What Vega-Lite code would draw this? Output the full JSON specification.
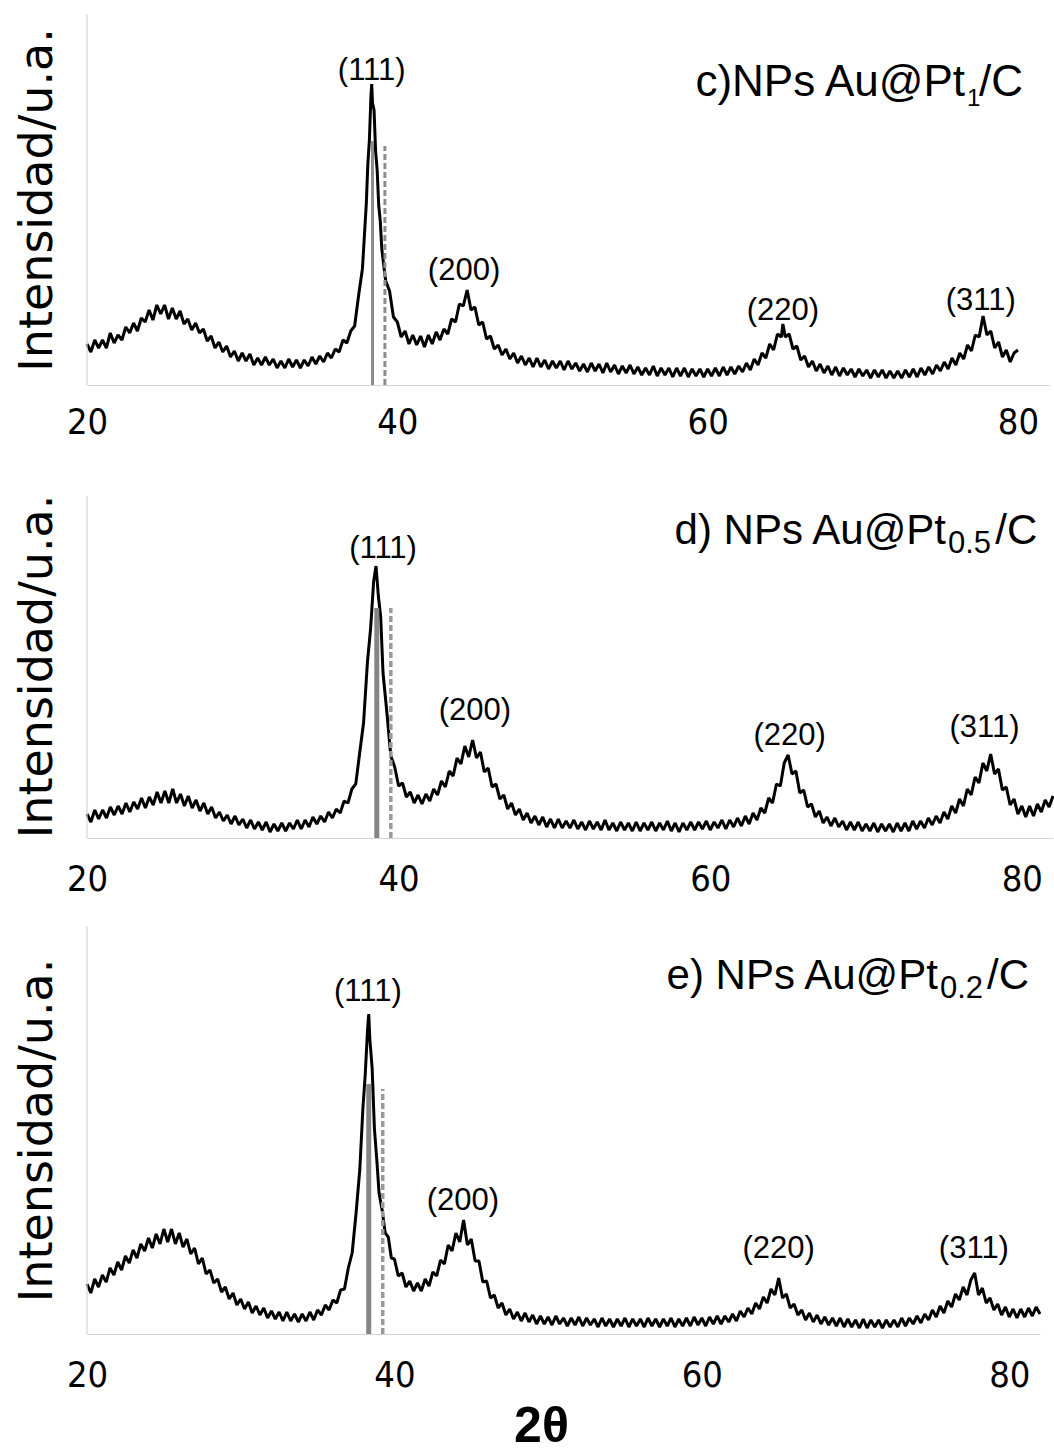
{
  "$schema": "https://vega.github.io/schema/vega-lite/v6.json",
  "background": "white",
  "padding": {"left": 14, "top": 13, "right": 0, "bottom": 0},
  "bounds": "flush",
  "spacing": 88,
  "config": {
    "view": {"stroke": null},
    "line": {"strokeJoin": "bevel"},
    "axisX": {"domain": true, "domainColor": "#d4d4d4", "domainWidth": 1.2, "ticks": false, "tickSize": 0, "grid": false, "labelFont": "Liberation Sans Narrow, DejaVu Sans Condensed, sans-serif", "labelFontSize": 36, "labelColor": "#000000", "labelFlush": false, "labelOverlap": false, "labelPadding": 24},
    "axisY": {"domain": false, "ticks": false, "labels": false, "grid": false, "titleFont": "DejaVu Sans", "titleFontSize": 46, "titleFontWeight": "normal", "titleColor": "#000000", "titlePadding": 26}
  },
  "datasets": {
    "c": [
      {"t":20,"i":41},{"t":20.25,"i":33},{"t":20.5,"i":45},{"t":20.75,"i":37},{"t":21,"i":45},{"t":21.25,"i":37},{"t":21.5,"i":52},{"t":21.75,"i":42},{"t":22,"i":50},{"t":22.25,"i":45},{"t":22.5,"i":58},{"t":22.75,"i":52},{"t":23,"i":62},{"t":23.25,"i":54},{"t":23.5,"i":67},{"t":23.75,"i":63},{"t":24,"i":75},{"t":24.25,"i":65},{"t":24.5,"i":80},{"t":24.75,"i":71},{"t":25,"i":80},{"t":25.25,"i":66},{"t":25.5,"i":77},{"t":25.75,"i":66},{"t":26,"i":74},{"t":26.25,"i":61},{"t":26.5,"i":66},{"t":26.75,"i":55},{"t":27,"i":62},{"t":27.25,"i":52},{"t":27.5,"i":56},{"t":27.75,"i":44},{"t":28,"i":49},{"t":28.25,"i":37},{"t":28.5,"i":43},{"t":28.75,"i":33},{"t":29,"i":39},{"t":29.25,"i":28},{"t":29.5,"i":34},{"t":29.75,"i":24},{"t":30,"i":32},{"t":30.25,"i":24},{"t":30.5,"i":31},{"t":30.75,"i":20},{"t":31,"i":27},{"t":31.25,"i":20},{"t":31.5,"i":28},{"t":31.75,"i":20},{"t":32,"i":26},{"t":32.25,"i":17},{"t":32.5,"i":24},{"t":32.75,"i":17},{"t":33,"i":26},{"t":33.25,"i":18},{"t":33.5,"i":25},{"t":33.75,"i":17},{"t":34,"i":25},{"t":34.25,"i":19},{"t":34.5,"i":28},{"t":34.75,"i":21},{"t":35,"i":29},{"t":35.25,"i":23},{"t":35.5,"i":32},{"t":35.75,"i":27},{"t":36,"i":36},{"t":36.25,"i":33},{"t":36.5,"i":45},{"t":36.75,"i":42},{"t":37,"i":54},{"t":37.25,"i":59},{"t":37.5,"i":89},{"t":37.75,"i":116},{"t":37.9,"i":155},{"t":38,"i":181},{"t":38.1,"i":221},{"t":38.2,"i":245},{"t":38.3,"i":289},{"t":38.35,"i":301},{"t":38.4,"i":282},{"t":38.5,"i":275},{"t":38.6,"i":234},{"t":38.7,"i":215},{"t":38.8,"i":180},{"t":38.9,"i":164},{"t":39,"i":136},{"t":39.1,"i":123},{"t":39.25,"i":104},{"t":39.5,"i":94},{"t":39.75,"i":68},{"t":40,"i":63},{"t":40.25,"i":48},{"t":40.5,"i":54},{"t":40.75,"i":41},{"t":41,"i":50},{"t":41.25,"i":40},{"t":41.5,"i":49},{"t":41.75,"i":38},{"t":42,"i":50},{"t":42.25,"i":41},{"t":42.5,"i":53},{"t":42.75,"i":45},{"t":43,"i":56},{"t":43.25,"i":51},{"t":43.5,"i":66},{"t":43.75,"i":63},{"t":44,"i":81},{"t":44.25,"i":79},{"t":44.5,"i":95},{"t":44.75,"i":75},{"t":45,"i":78},{"t":45.25,"i":60},{"t":45.5,"i":63},{"t":45.75,"i":46},{"t":46,"i":49},{"t":46.25,"i":36},{"t":46.5,"i":40},{"t":46.75,"i":30},{"t":47,"i":36},{"t":47.25,"i":26},{"t":47.5,"i":32},{"t":47.75,"i":22},{"t":48,"i":29},{"t":48.25,"i":20},{"t":48.5,"i":27},{"t":48.75,"i":18},{"t":49,"i":27},{"t":49.25,"i":18},{"t":49.5,"i":25},{"t":49.75,"i":16},{"t":50,"i":24},{"t":50.25,"i":17},{"t":50.5,"i":24},{"t":50.75,"i":15},{"t":51,"i":24},{"t":51.25,"i":16},{"t":51.5,"i":22},{"t":51.75,"i":14},{"t":52,"i":21},{"t":52.25,"i":13},{"t":52.5,"i":22},{"t":52.75,"i":14},{"t":53,"i":21},{"t":53.25,"i":12},{"t":53.5,"i":22},{"t":53.75,"i":13},{"t":54,"i":20},{"t":54.25,"i":11},{"t":54.5,"i":19},{"t":54.75,"i":12},{"t":55,"i":20},{"t":55.25,"i":11},{"t":55.5,"i":18},{"t":55.75,"i":10},{"t":56,"i":17},{"t":56.25,"i":10},{"t":56.5,"i":19},{"t":56.75,"i":9},{"t":57,"i":17},{"t":57.25,"i":10},{"t":57.5,"i":17},{"t":57.75,"i":8},{"t":58,"i":17},{"t":58.25,"i":9},{"t":58.5,"i":17},{"t":58.75,"i":8},{"t":59,"i":16},{"t":59.25,"i":9},{"t":59.5,"i":16},{"t":59.75,"i":8},{"t":60,"i":16},{"t":60.25,"i":9},{"t":60.5,"i":17},{"t":60.75,"i":9},{"t":61,"i":18},{"t":61.25,"i":10},{"t":61.5,"i":18},{"t":61.75,"i":11},{"t":62,"i":19},{"t":62.25,"i":13},{"t":62.5,"i":22},{"t":62.75,"i":15},{"t":63,"i":26},{"t":63.25,"i":20},{"t":63.5,"i":32},{"t":63.75,"i":27},{"t":64,"i":41},{"t":64.25,"i":35},{"t":64.5,"i":51},{"t":64.75,"i":48},{"t":64.85,"i":61},{"t":65,"i":48},{"t":65.25,"i":51},{"t":65.5,"i":36},{"t":65.75,"i":39},{"t":66,"i":25},{"t":66.25,"i":29},{"t":66.5,"i":18},{"t":66.75,"i":24},{"t":67,"i":14},{"t":67.25,"i":21},{"t":67.5,"i":12},{"t":67.75,"i":19},{"t":68,"i":10},{"t":68.25,"i":18},{"t":68.5,"i":9},{"t":68.75,"i":17},{"t":69,"i":10},{"t":69.25,"i":16},{"t":69.5,"i":8},{"t":69.75,"i":16},{"t":70,"i":9},{"t":70.25,"i":15},{"t":70.5,"i":7},{"t":70.75,"i":15},{"t":71,"i":8},{"t":71.25,"i":15},{"t":71.5,"i":7},{"t":71.75,"i":14},{"t":72,"i":7},{"t":72.25,"i":14},{"t":72.5,"i":7},{"t":72.75,"i":15},{"t":73,"i":8},{"t":73.25,"i":16},{"t":73.5,"i":8},{"t":73.75,"i":17},{"t":74,"i":10},{"t":74.25,"i":18},{"t":74.5,"i":11},{"t":74.75,"i":20},{"t":75,"i":14},{"t":75.25,"i":23},{"t":75.5,"i":16},{"t":75.75,"i":27},{"t":76,"i":20},{"t":76.25,"i":32},{"t":76.5,"i":26},{"t":76.75,"i":40},{"t":77,"i":34},{"t":77.25,"i":50},{"t":77.5,"i":48},{"t":77.75,"i":69},{"t":78,"i":50},{"t":78.25,"i":54},{"t":78.5,"i":37},{"t":78.75,"i":43},{"t":79,"i":28},{"t":79.25,"i":35},{"t":79.5,"i":23},{"t":79.75,"i":32},{"t":80,"i":35}
    ],
    "d": [
      {"t":20,"i":24},{"t":20.25,"i":16},{"t":20.5,"i":28},{"t":20.75,"i":19},{"t":21,"i":28},{"t":21.25,"i":20},{"t":21.5,"i":31},{"t":21.75,"i":23},{"t":22,"i":32},{"t":22.25,"i":24},{"t":22.5,"i":35},{"t":22.75,"i":26},{"t":23,"i":36},{"t":23.25,"i":29},{"t":23.5,"i":40},{"t":23.75,"i":30},{"t":24,"i":41},{"t":24.25,"i":33},{"t":24.5,"i":46},{"t":24.75,"i":35},{"t":25,"i":47},{"t":25.25,"i":35},{"t":25.5,"i":49},{"t":25.75,"i":35},{"t":26,"i":44},{"t":26.25,"i":32},{"t":26.5,"i":42},{"t":26.75,"i":30},{"t":27,"i":38},{"t":27.25,"i":27},{"t":27.5,"i":35},{"t":27.75,"i":24},{"t":28,"i":31},{"t":28.25,"i":20},{"t":28.5,"i":26},{"t":28.75,"i":17},{"t":29,"i":23},{"t":29.25,"i":14},{"t":29.5,"i":22},{"t":29.75,"i":13},{"t":30,"i":19},{"t":30.25,"i":10},{"t":30.5,"i":18},{"t":30.75,"i":9},{"t":31,"i":16},{"t":31.25,"i":8},{"t":31.5,"i":16},{"t":31.75,"i":6},{"t":32,"i":14},{"t":32.25,"i":7},{"t":32.5,"i":15},{"t":32.75,"i":7},{"t":33,"i":15},{"t":33.25,"i":9},{"t":33.5,"i":18},{"t":33.75,"i":9},{"t":34,"i":18},{"t":34.25,"i":11},{"t":34.5,"i":21},{"t":34.75,"i":14},{"t":35,"i":22},{"t":35.25,"i":16},{"t":35.5,"i":26},{"t":35.75,"i":20},{"t":36,"i":29},{"t":36.25,"i":25},{"t":36.5,"i":37},{"t":36.75,"i":35},{"t":37,"i":49},{"t":37.25,"i":54},{"t":37.5,"i":85},{"t":37.75,"i":115},{"t":38,"i":176},{"t":38.2,"i":209},{"t":38.4,"i":257},{"t":38.55,"i":272},{"t":38.7,"i":242},{"t":38.85,"i":221},{"t":39,"i":165},{"t":39.25,"i":125},{"t":39.5,"i":82},{"t":39.75,"i":71},{"t":40,"i":52},{"t":40.25,"i":55},{"t":40.5,"i":41},{"t":40.75,"i":46},{"t":41,"i":35},{"t":41.25,"i":43},{"t":41.5,"i":34},{"t":41.75,"i":44},{"t":42,"i":37},{"t":42.25,"i":49},{"t":42.5,"i":43},{"t":42.75,"i":57},{"t":43,"i":51},{"t":43.25,"i":67},{"t":43.5,"i":62},{"t":43.75,"i":80},{"t":44,"i":74},{"t":44.25,"i":92},{"t":44.5,"i":81},{"t":44.75,"i":98},{"t":45,"i":80},{"t":45.25,"i":86},{"t":45.5,"i":66},{"t":45.75,"i":70},{"t":46,"i":51},{"t":46.25,"i":54},{"t":46.5,"i":39},{"t":46.75,"i":43},{"t":47,"i":29},{"t":47.25,"i":35},{"t":47.5,"i":23},{"t":47.75,"i":29},{"t":48,"i":18},{"t":48.25,"i":25},{"t":48.5,"i":15},{"t":48.75,"i":22},{"t":49,"i":13},{"t":49.25,"i":21},{"t":49.5,"i":11},{"t":49.75,"i":19},{"t":50,"i":10},{"t":50.25,"i":19},{"t":50.5,"i":10},{"t":50.75,"i":17},{"t":51,"i":10},{"t":51.25,"i":18},{"t":51.5,"i":9},{"t":51.75,"i":16},{"t":52,"i":8},{"t":52.25,"i":17},{"t":52.5,"i":9},{"t":52.75,"i":16},{"t":53,"i":8},{"t":53.25,"i":18},{"t":53.5,"i":8},{"t":53.75,"i":15},{"t":54,"i":7},{"t":54.25,"i":16},{"t":54.5,"i":8},{"t":54.75,"i":15},{"t":55,"i":7},{"t":55.25,"i":16},{"t":55.5,"i":7},{"t":55.75,"i":15},{"t":56,"i":8},{"t":56.25,"i":16},{"t":56.5,"i":7},{"t":56.75,"i":15},{"t":57,"i":8},{"t":57.25,"i":17},{"t":57.5,"i":7},{"t":57.75,"i":15},{"t":58,"i":6},{"t":58.25,"i":15},{"t":58.5,"i":8},{"t":58.75,"i":16},{"t":59,"i":8},{"t":59.25,"i":16},{"t":59.5,"i":9},{"t":59.75,"i":17},{"t":60,"i":8},{"t":60.25,"i":16},{"t":60.5,"i":10},{"t":60.75,"i":18},{"t":61,"i":9},{"t":61.25,"i":18},{"t":61.5,"i":11},{"t":61.75,"i":20},{"t":62,"i":12},{"t":62.25,"i":22},{"t":62.5,"i":14},{"t":62.75,"i":25},{"t":63,"i":18},{"t":63.25,"i":30},{"t":63.5,"i":25},{"t":63.75,"i":40},{"t":64,"i":35},{"t":64.25,"i":54},{"t":64.5,"i":52},{"t":64.75,"i":75},{"t":65,"i":83},{"t":65.25,"i":64},{"t":65.5,"i":67},{"t":65.75,"i":45},{"t":66,"i":48},{"t":66.25,"i":31},{"t":66.5,"i":34},{"t":66.75,"i":21},{"t":67,"i":27},{"t":67.25,"i":15},{"t":67.5,"i":21},{"t":67.75,"i":12},{"t":68,"i":20},{"t":68.25,"i":11},{"t":68.5,"i":17},{"t":68.75,"i":8},{"t":69,"i":16},{"t":69.25,"i":8},{"t":69.5,"i":16},{"t":69.75,"i":7},{"t":70,"i":14},{"t":70.25,"i":7},{"t":70.5,"i":15},{"t":70.75,"i":6},{"t":71,"i":14},{"t":71.25,"i":7},{"t":71.5,"i":14},{"t":71.75,"i":6},{"t":72,"i":15},{"t":72.25,"i":7},{"t":72.5,"i":15},{"t":72.75,"i":7},{"t":73,"i":17},{"t":73.25,"i":9},{"t":73.5,"i":17},{"t":73.75,"i":10},{"t":74,"i":20},{"t":74.25,"i":13},{"t":74.5,"i":22},{"t":74.75,"i":15},{"t":75,"i":26},{"t":75.25,"i":19},{"t":75.5,"i":32},{"t":75.75,"i":25},{"t":76,"i":39},{"t":76.25,"i":32},{"t":76.5,"i":49},{"t":76.75,"i":43},{"t":77,"i":61},{"t":77.25,"i":55},{"t":77.5,"i":75},{"t":77.75,"i":67},{"t":78,"i":84},{"t":78.25,"i":64},{"t":78.5,"i":69},{"t":78.75,"i":48},{"t":79,"i":51},{"t":79.25,"i":33},{"t":79.5,"i":39},{"t":79.75,"i":24},{"t":80,"i":32},{"t":80.25,"i":21},{"t":80.5,"i":32},{"t":80.75,"i":22},{"t":81,"i":34},{"t":81.25,"i":26},{"t":81.5,"i":38},{"t":81.75,"i":31},{"t":82,"i":42}
    ],
    "e": [
      {"t":20,"i":50},{"t":20.25,"i":41},{"t":20.5,"i":55},{"t":20.75,"i":47},{"t":21,"i":59},{"t":21.25,"i":52},{"t":21.5,"i":66},{"t":21.75,"i":59},{"t":22,"i":72},{"t":22.25,"i":64},{"t":22.5,"i":78},{"t":22.75,"i":71},{"t":23,"i":84},{"t":23.25,"i":76},{"t":23.5,"i":90},{"t":23.75,"i":83},{"t":24,"i":96},{"t":24.25,"i":86},{"t":24.5,"i":100},{"t":24.75,"i":90},{"t":25,"i":105},{"t":25.25,"i":92},{"t":25.5,"i":105},{"t":25.75,"i":90},{"t":26,"i":101},{"t":26.25,"i":87},{"t":26.5,"i":95},{"t":26.75,"i":80},{"t":27,"i":86},{"t":27.25,"i":70},{"t":27.5,"i":76},{"t":27.75,"i":60},{"t":28,"i":64},{"t":28.25,"i":51},{"t":28.5,"i":55},{"t":28.75,"i":42},{"t":29,"i":47},{"t":29.25,"i":35},{"t":29.5,"i":41},{"t":29.75,"i":29},{"t":30,"i":35},{"t":30.25,"i":25},{"t":30.5,"i":32},{"t":30.75,"i":21},{"t":31,"i":28},{"t":31.25,"i":19},{"t":31.5,"i":26},{"t":31.75,"i":16},{"t":32,"i":23},{"t":32.25,"i":15},{"t":32.5,"i":22},{"t":32.75,"i":13},{"t":33,"i":22},{"t":33.25,"i":13},{"t":33.5,"i":20},{"t":33.75,"i":12},{"t":34,"i":20},{"t":34.25,"i":13},{"t":34.5,"i":22},{"t":34.75,"i":14},{"t":35,"i":24},{"t":35.25,"i":19},{"t":35.5,"i":29},{"t":35.75,"i":24},{"t":36,"i":34},{"t":36.25,"i":31},{"t":36.5,"i":44},{"t":36.75,"i":45},{"t":37,"i":66},{"t":37.25,"i":81},{"t":37.5,"i":120},{"t":37.75,"i":165},{"t":37.95,"i":226},{"t":38.1,"i":259},{"t":38.25,"i":304},{"t":38.33,"i":320},{"t":38.4,"i":295},{"t":38.55,"i":266},{"t":38.7,"i":205},{"t":38.85,"i":175},{"t":39,"i":141},{"t":39.2,"i":124},{"t":39.4,"i":101},{"t":39.6,"i":97},{"t":39.8,"i":76},{"t":40,"i":75},{"t":40.25,"i":58},{"t":40.5,"i":61},{"t":40.75,"i":47},{"t":41,"i":53},{"t":41.25,"i":43},{"t":41.5,"i":51},{"t":41.75,"i":43},{"t":42,"i":55},{"t":42.25,"i":48},{"t":42.5,"i":62},{"t":42.75,"i":58},{"t":43,"i":74},{"t":43.25,"i":70},{"t":43.5,"i":89},{"t":43.75,"i":83},{"t":44,"i":101},{"t":44.25,"i":92},{"t":44.5,"i":114},{"t":44.75,"i":89},{"t":45,"i":95},{"t":45.25,"i":73},{"t":45.5,"i":73},{"t":45.75,"i":52},{"t":46,"i":53},{"t":46.25,"i":36},{"t":46.5,"i":39},{"t":46.75,"i":26},{"t":47,"i":31},{"t":47.25,"i":19},{"t":47.5,"i":25},{"t":47.75,"i":15},{"t":48,"i":22},{"t":48.25,"i":13},{"t":48.5,"i":21},{"t":48.75,"i":12},{"t":49,"i":19},{"t":49.25,"i":10},{"t":49.5,"i":18},{"t":49.75,"i":10},{"t":50,"i":17},{"t":50.25,"i":9},{"t":50.5,"i":18},{"t":50.75,"i":10},{"t":51,"i":16},{"t":51.25,"i":8},{"t":51.5,"i":16},{"t":51.75,"i":9},{"t":52,"i":17},{"t":52.25,"i":8},{"t":52.5,"i":16},{"t":52.75,"i":9},{"t":53,"i":15},{"t":53.25,"i":7},{"t":53.5,"i":16},{"t":53.75,"i":8},{"t":54,"i":15},{"t":54.25,"i":7},{"t":54.5,"i":15},{"t":54.75,"i":8},{"t":55,"i":16},{"t":55.25,"i":7},{"t":55.5,"i":15},{"t":55.75,"i":8},{"t":56,"i":15},{"t":56.25,"i":7},{"t":56.5,"i":16},{"t":56.75,"i":8},{"t":57,"i":15},{"t":57.25,"i":7},{"t":57.5,"i":15},{"t":57.75,"i":8},{"t":58,"i":16},{"t":58.25,"i":7},{"t":58.5,"i":15},{"t":58.75,"i":8},{"t":59,"i":16},{"t":59.25,"i":8},{"t":59.5,"i":17},{"t":59.75,"i":9},{"t":60,"i":16},{"t":60.25,"i":8},{"t":60.5,"i":17},{"t":60.75,"i":10},{"t":61,"i":18},{"t":61.25,"i":10},{"t":61.5,"i":18},{"t":61.75,"i":12},{"t":62,"i":20},{"t":62.25,"i":13},{"t":62.5,"i":23},{"t":62.75,"i":17},{"t":63,"i":26},{"t":63.25,"i":20},{"t":63.5,"i":31},{"t":63.75,"i":25},{"t":64,"i":37},{"t":64.25,"i":31},{"t":64.5,"i":45},{"t":64.75,"i":39},{"t":65,"i":56},{"t":65.25,"i":36},{"t":65.5,"i":40},{"t":65.75,"i":26},{"t":66,"i":30},{"t":66.25,"i":19},{"t":66.5,"i":24},{"t":66.75,"i":14},{"t":67,"i":21},{"t":67.25,"i":12},{"t":67.5,"i":19},{"t":67.75,"i":10},{"t":68,"i":17},{"t":68.25,"i":9},{"t":68.5,"i":16},{"t":68.75,"i":8},{"t":69,"i":16},{"t":69.25,"i":7},{"t":69.5,"i":15},{"t":69.75,"i":7},{"t":70,"i":14},{"t":70.25,"i":6},{"t":70.5,"i":15},{"t":70.75,"i":6},{"t":71,"i":14},{"t":71.25,"i":7},{"t":71.5,"i":14},{"t":71.75,"i":6},{"t":72,"i":14},{"t":72.25,"i":7},{"t":72.5,"i":14},{"t":72.75,"i":7},{"t":73,"i":16},{"t":73.25,"i":8},{"t":73.5,"i":16},{"t":73.75,"i":10},{"t":74,"i":18},{"t":74.25,"i":11},{"t":74.5,"i":20},{"t":74.75,"i":14},{"t":75,"i":24},{"t":75.25,"i":17},{"t":75.5,"i":28},{"t":75.75,"i":21},{"t":76,"i":33},{"t":76.25,"i":27},{"t":76.5,"i":40},{"t":76.75,"i":34},{"t":77,"i":47},{"t":77.25,"i":39},{"t":77.5,"i":54},{"t":77.75,"i":61},{"t":78,"i":39},{"t":78.25,"i":46},{"t":78.5,"i":31},{"t":78.75,"i":36},{"t":79,"i":24},{"t":79.25,"i":30},{"t":79.5,"i":19},{"t":79.75,"i":27},{"t":80,"i":17},{"t":80.25,"i":25},{"t":80.5,"i":16},{"t":80.75,"i":25},{"t":81,"i":17},{"t":81.25,"i":26},{"t":81.5,"i":18},{"t":81.75,"i":27},{"t":82,"i":20}
    ]
  },
  "vconcat": [
    {
      "width": 962,
      "height": 371,
      "layer": [
        {
          "data": {"name": "c"},
          "mark": {"type": "line", "color": "#000000", "strokeWidth": 3},
          "encoding": {
            "x": {"field": "t", "type": "quantitative", "scale": {"domain": [20, 82], "nice": false, "zero": false}, "axis": {"title": null, "values": [20, 40, 60, 80], "labelPadding": 20}},
            "y": {"field": "i", "type": "quantitative", "scale": {"domain": [0, 371], "nice": false, "zero": false}, "axis": {"title": "Intensidad/u.a."}}
          }
        },
        {
          "data": {"values": [{"t": 20, "i": 0, "i2": 371}]},
          "mark": {"type": "rule", "color": "#d4d4d4", "strokeWidth": 1.2},
          "encoding": {"x": {"field": "t", "type": "quantitative"}, "y": {"field": "i", "type": "quantitative"}, "y2": {"field": "i2"}}
        },
        {
          "data": {"values": [{"t": 38.4, "i": 0, "i2": 244}]},
          "mark": {"type": "rule", "color": "#8c8c8c", "strokeWidth": 3},
          "encoding": {"x": {"field": "t", "type": "quantitative"}, "y": {"field": "i", "type": "quantitative"}, "y2": {"field": "i2"}}
        },
        {
          "data": {"values": [{"t": 39.2, "i": 0, "i2": 239}]},
          "mark": {"type": "rule", "color": "#8c8c8c", "strokeWidth": 3, "strokeDash": [6, 3]},
          "encoding": {"x": {"field": "t", "type": "quantitative"}, "y": {"field": "i", "type": "quantitative"}, "y2": {"field": "i2"}}
        },
        {
          "data": {"values": [{"t": 38.35, "i": 314, "s": "(111)"}, {"t": 44.3, "i": 114, "s": "(200)"}, {"t": 64.85, "i": 74, "s": "(220)"}, {"t": 77.6, "i": 84, "s": "(311)"}]},
          "mark": {"type": "text", "font": "Liberation Sans", "fontSize": 31, "color": "#000000", "align": "center", "baseline": "middle"},
          "encoding": {"x": {"field": "t", "type": "quantitative"}, "y": {"field": "i", "type": "quantitative"}, "text": {"field": "s"}}
        },
        {
          "data": {"values": [{"t": 76.59, "i": 289, "s": "c)NPs Au@Pt"}]},
          "mark": {"type": "text", "font": "Liberation Sans", "fontSize": 44, "color": "#000000", "align": "right", "baseline": "alphabetic"},
          "encoding": {"x": {"field": "t", "type": "quantitative"}, "y": {"field": "i", "type": "quantitative"}, "text": {"field": "s"}}
        },
        {
          "data": {"values": [{"t": 76.72, "i": 279, "s": "1"}]},
          "mark": {"type": "text", "font": "Liberation Sans", "fontSize": 24, "color": "#000000", "align": "left", "baseline": "alphabetic"},
          "encoding": {"x": {"field": "t", "type": "quantitative"}, "y": {"field": "i", "type": "quantitative"}, "text": {"field": "s"}}
        },
        {
          "data": {"values": [{"t": 77.49, "i": 289, "s": "/C"}]},
          "mark": {"type": "text", "font": "Liberation Sans", "fontSize": 44, "color": "#000000", "align": "left", "baseline": "alphabetic"},
          "encoding": {"x": {"field": "t", "type": "quantitative"}, "y": {"field": "i", "type": "quantitative"}, "text": {"field": "s"}}
        }
      ]
    },
    {
      "width": 966,
      "height": 365,
      "layer": [
        {
          "data": {"name": "d"},
          "mark": {"type": "line", "color": "#000000", "strokeWidth": 3},
          "encoding": {
            "x": {"field": "t", "type": "quantitative", "scale": {"domain": [20, 82], "nice": false, "zero": false}, "axis": {"title": null, "values": [20, 40, 60, 80]}},
            "y": {"field": "i", "type": "quantitative", "scale": {"domain": [0, 365], "nice": false, "zero": false}, "axis": {"title": "Intensidad/u.a.", "titleY": 193}}
          }
        },
        {
          "data": {"values": [{"t": 20, "i": 0, "i2": 342}]},
          "mark": {"type": "rule", "color": "#d4d4d4", "strokeWidth": 1.2},
          "encoding": {"x": {"field": "t", "type": "quantitative"}, "y": {"field": "i", "type": "quantitative"}, "y2": {"field": "i2"}}
        },
        {
          "data": {"values": [{"t": 38.6, "i": 0, "i2": 230}]},
          "mark": {"type": "rule", "color": "#858585", "strokeWidth": 5},
          "encoding": {"x": {"field": "t", "type": "quantitative"}, "y": {"field": "i", "type": "quantitative"}, "y2": {"field": "i2"}}
        },
        {
          "data": {"values": [{"t": 39.5, "i": 0, "i2": 230}]},
          "mark": {"type": "rule", "color": "#999999", "strokeWidth": 3.5, "strokeDash": [6, 3]},
          "encoding": {"x": {"field": "t", "type": "quantitative"}, "y": {"field": "i", "type": "quantitative"}, "y2": {"field": "i2"}}
        },
        {
          "data": {"values": [{"t": 39.0, "i": 289, "s": "(111)"}, {"t": 44.9, "i": 127, "s": "(200)"}, {"t": 65.1, "i": 102, "s": "(220)"}, {"t": 77.6, "i": 110, "s": "(311)"}]},
          "mark": {"type": "text", "font": "Liberation Sans", "fontSize": 31, "color": "#000000", "align": "center", "baseline": "middle"},
          "encoding": {"x": {"field": "t", "type": "quantitative"}, "y": {"field": "i", "type": "quantitative"}, "text": {"field": "s"}}
        },
        {
          "data": {"values": [{"t": 75.13, "i": 294, "s": "d) NPs Au@Pt"}]},
          "mark": {"type": "text", "font": "Liberation Sans", "fontSize": 42, "color": "#000000", "align": "right", "baseline": "alphabetic"},
          "encoding": {"x": {"field": "t", "type": "quantitative"}, "y": {"field": "i", "type": "quantitative"}, "text": {"field": "s"}}
        },
        {
          "data": {"values": [{"t": 75.26, "i": 285, "s": "0.5"}]},
          "mark": {"type": "text", "font": "Liberation Sans", "fontSize": 31, "color": "#000000", "align": "left", "baseline": "alphabetic"},
          "encoding": {"x": {"field": "t", "type": "quantitative"}, "y": {"field": "i", "type": "quantitative"}, "text": {"field": "s"}}
        },
        {
          "data": {"values": [{"t": 78.3, "i": 294, "s": "/C"}]},
          "mark": {"type": "text", "font": "Liberation Sans", "fontSize": 42, "color": "#000000", "align": "left", "baseline": "alphabetic"},
          "encoding": {"x": {"field": "t", "type": "quantitative"}, "y": {"field": "i", "type": "quantitative"}, "text": {"field": "s"}}
        }
      ]
    },
    {
      "width": 953,
      "height": 408,
      "layer": [
        {
          "data": {"name": "e"},
          "mark": {"type": "line", "color": "#000000", "strokeWidth": 3},
          "encoding": {
            "x": {"field": "t", "type": "quantitative", "scale": {"domain": [20, 82], "nice": false, "zero": false}, "axis": {"title": "2θ", "values": [20, 40, 60, 80], "titleFont": "Liberation Sans", "titleFontSize": 50, "titleFontWeight": "bold", "titleColor": "#000000", "titlePadding": 8, "titleX": 454}},
            "y": {"field": "i", "type": "quantitative", "scale": {"domain": [0, 408], "nice": false, "zero": false}, "axis": {"title": "Intensidad/u.a."}}
          }
        },
        {
          "data": {"values": [{"t": 20, "i": 0, "i2": 408}]},
          "mark": {"type": "rule", "color": "#d4d4d4", "strokeWidth": 1.2},
          "encoding": {"x": {"field": "t", "type": "quantitative"}, "y": {"field": "i", "type": "quantitative"}, "y2": {"field": "i2"}}
        },
        {
          "data": {"values": [{"t": 38.33, "i": 0, "i2": 250}]},
          "mark": {"type": "rule", "color": "#858585", "strokeWidth": 5},
          "encoding": {"x": {"field": "t", "type": "quantitative"}, "y": {"field": "i", "type": "quantitative"}, "y2": {"field": "i2"}}
        },
        {
          "data": {"values": [{"t": 39.24, "i": 0, "i2": 245}]},
          "mark": {"type": "rule", "color": "#999999", "strokeWidth": 3.5, "strokeDash": [6, 3]},
          "encoding": {"x": {"field": "t", "type": "quantitative"}, "y": {"field": "i", "type": "quantitative"}, "y2": {"field": "i2"}}
        },
        {
          "data": {"values": [{"t": 38.27, "i": 342, "s": "(111)"}, {"t": 44.46, "i": 133, "s": "(200)"}, {"t": 65.0, "i": 85, "s": "(220)"}, {"t": 77.7, "i": 85, "s": "(311)"}]},
          "mark": {"type": "text", "font": "Liberation Sans", "fontSize": 31, "color": "#000000", "align": "center", "baseline": "middle"},
          "encoding": {"x": {"field": "t", "type": "quantitative"}, "y": {"field": "i", "type": "quantitative"}, "text": {"field": "s"}}
        },
        {
          "data": {"values": [{"t": 75.36, "i": 345, "s": "e) NPs Au@Pt"}]},
          "mark": {"type": "text", "font": "Liberation Sans", "fontSize": 42, "color": "#000000", "align": "right", "baseline": "alphabetic"},
          "encoding": {"x": {"field": "t", "type": "quantitative"}, "y": {"field": "i", "type": "quantitative"}, "text": {"field": "s"}}
        },
        {
          "data": {"values": [{"t": 75.49, "i": 336, "s": "0.2"}]},
          "mark": {"type": "text", "font": "Liberation Sans", "fontSize": 31, "color": "#000000", "align": "left", "baseline": "alphabetic"},
          "encoding": {"x": {"field": "t", "type": "quantitative"}, "y": {"field": "i", "type": "quantitative"}, "text": {"field": "s"}}
        },
        {
          "data": {"values": [{"t": 78.55, "i": 345, "s": "/C"}]},
          "mark": {"type": "text", "font": "Liberation Sans", "fontSize": 42, "color": "#000000", "align": "left", "baseline": "alphabetic"},
          "encoding": {"x": {"field": "t", "type": "quantitative"}, "y": {"field": "i", "type": "quantitative"}, "text": {"field": "s"}}
        }
      ]
    }
  ]
}
